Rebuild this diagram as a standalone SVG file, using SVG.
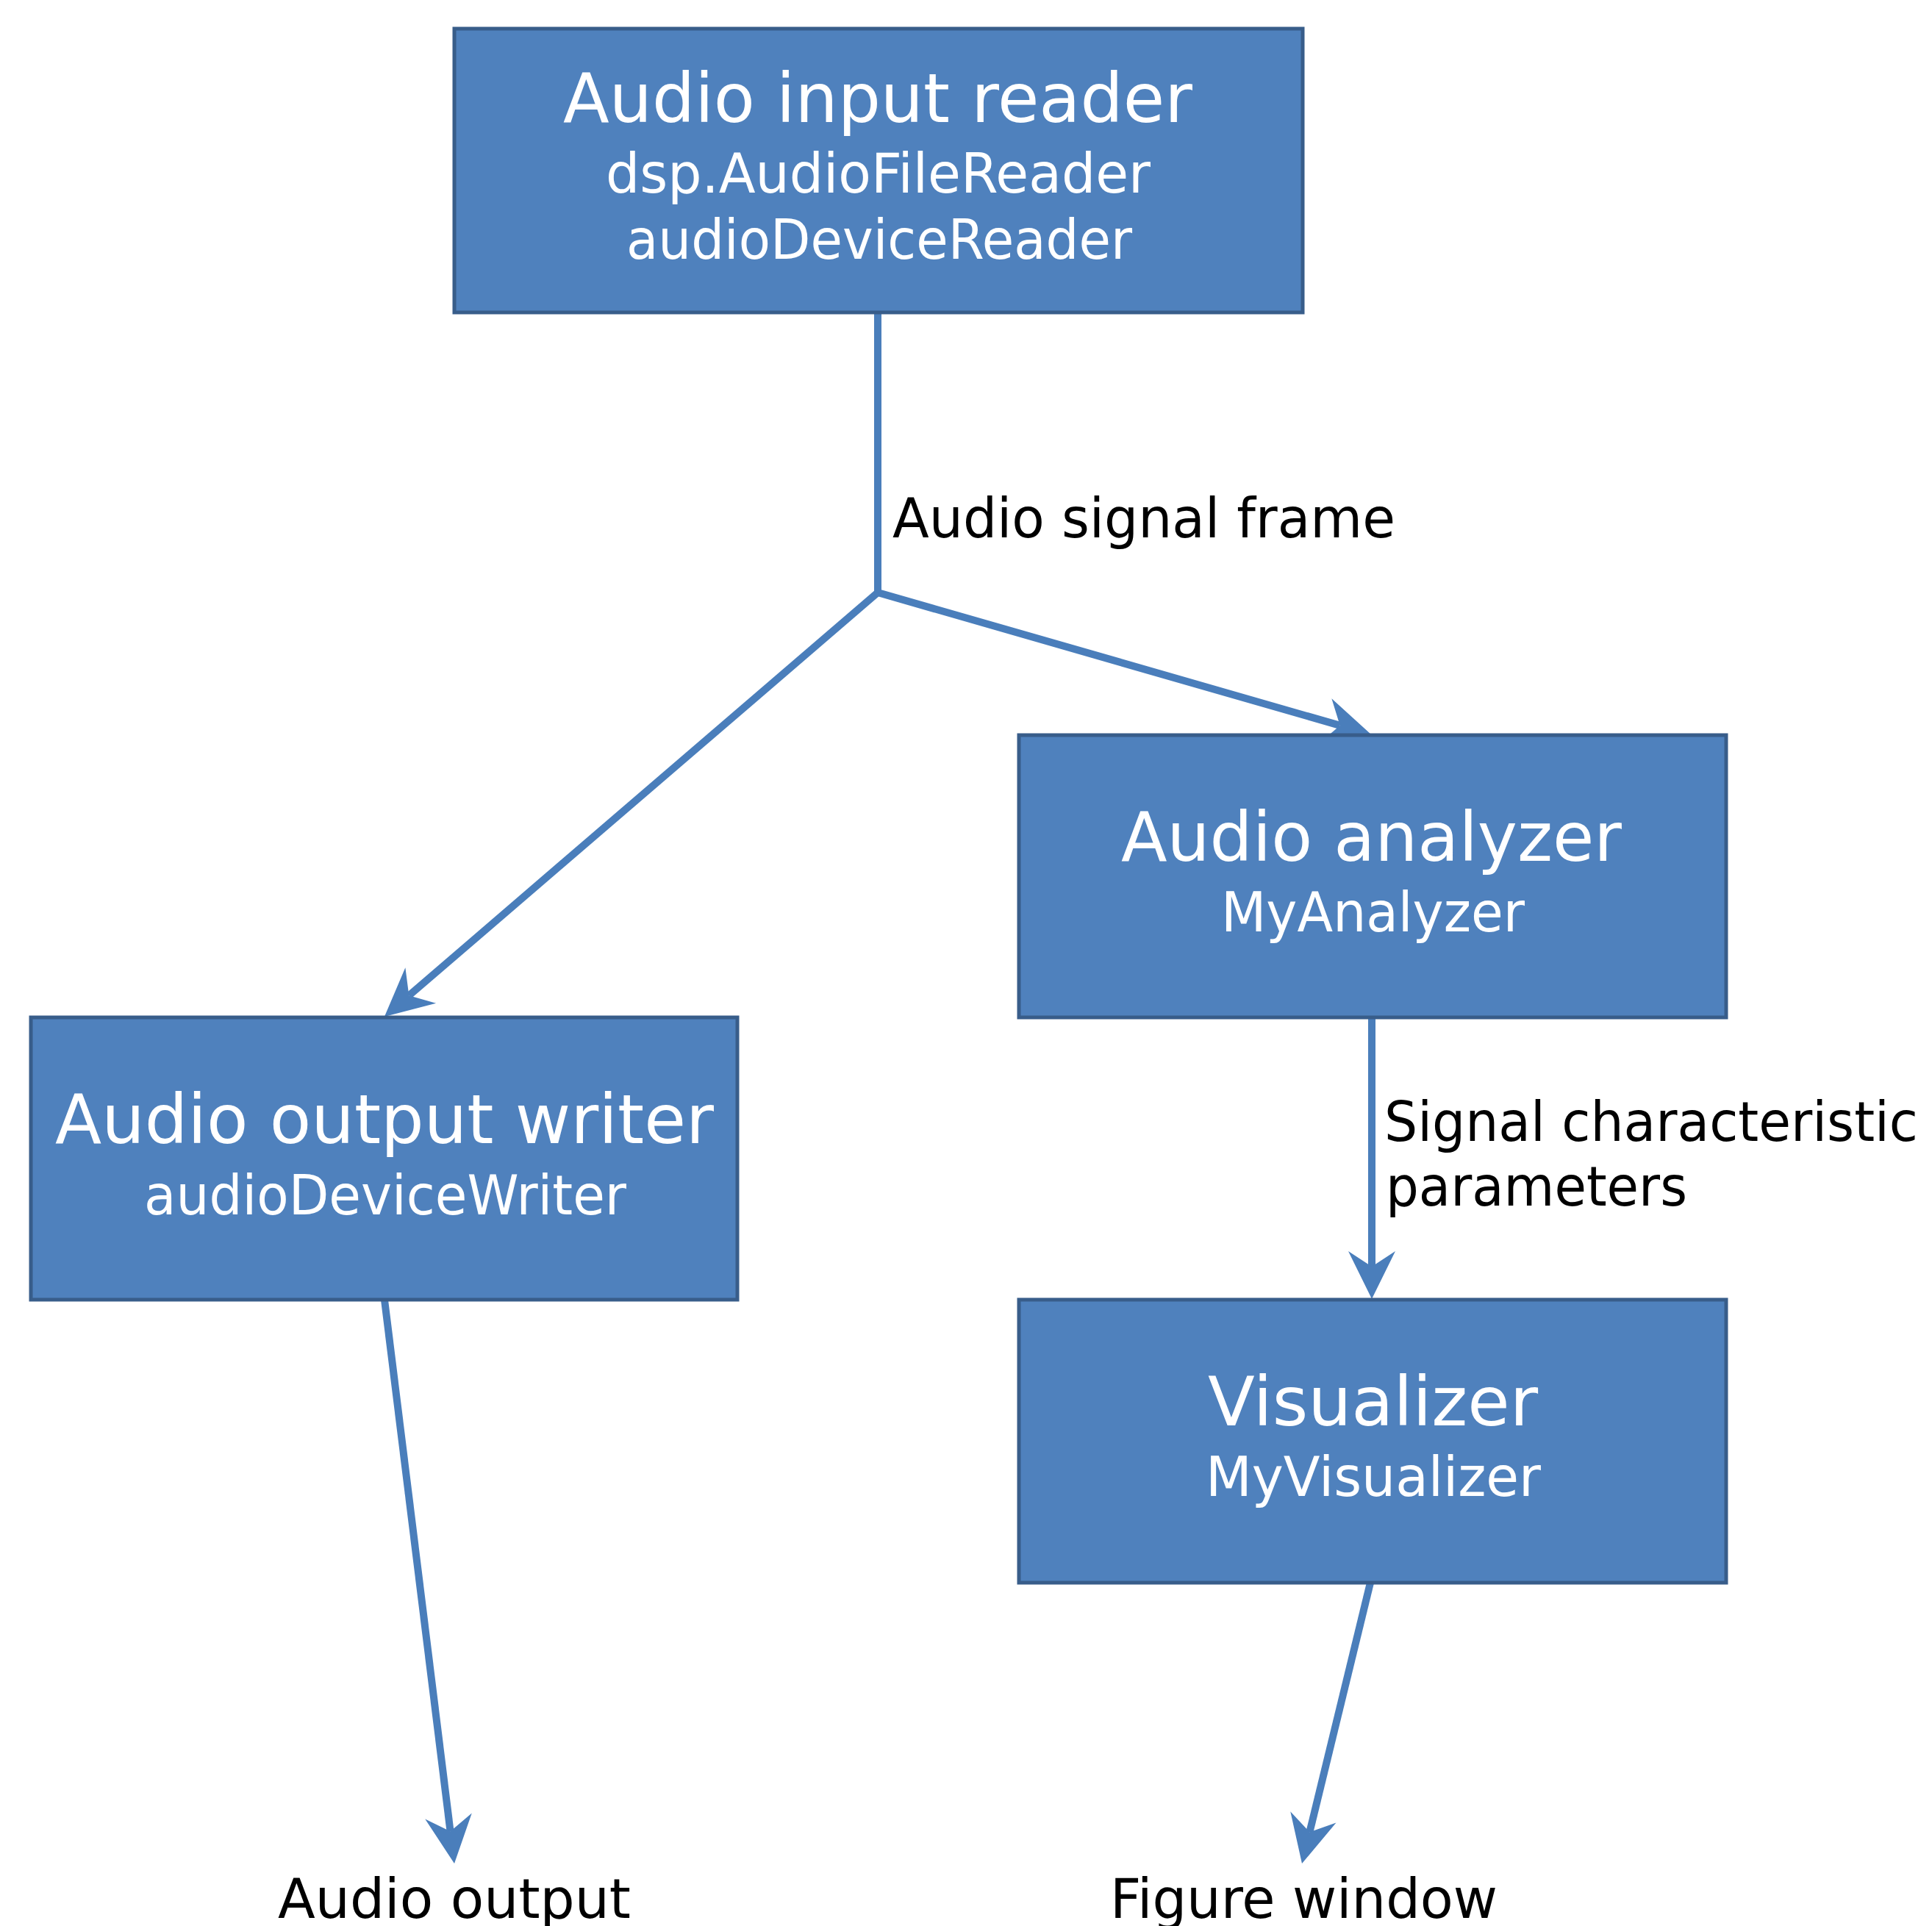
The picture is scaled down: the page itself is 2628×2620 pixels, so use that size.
<svg xmlns="http://www.w3.org/2000/svg" width="2628" height="2620" viewBox="0 0 2628 2620">
<style>
.box{fill:#4F81BD;stroke:#385D8A;stroke-width:5}
.t{font-family:"DejaVu Sans",sans-serif;fill:#FFFFFF;text-anchor:middle}
.big{font-size:92px}
.small{font-size:74px}
.lbl{font-family:"DejaVu Sans",sans-serif;fill:#000000;font-size:74px}
.conn{fill:none;stroke:#4A7EBB;stroke-width:10;stroke-linejoin:miter}
</style>
<defs>
<marker id="arr" markerUnits="userSpaceOnUse" viewBox="-25 -35 75 70" refX="0" refY="0" markerWidth="75" markerHeight="70" orient="auto">
<path d="M44,0 L-21,-32 L0,0 L-21,32 Z" fill="#4A7EBB"/>
</marker>
</defs>
<rect width="2628" height="2620" fill="#FFFFFF"/>
<g id="connectors">
<path class="conn" d="M1194,425 L1194,806 L1822.7,986.9" marker-end="url(#arr)"/>
<path class="conn" d="M1194,806 L556.3,1354.3" marker-end="url(#arr)"/>
<path class="conn" d="M1866,1384 L1866,1723" marker-end="url(#arr)"/>
<path class="conn" d="M523,1768 L612.6,2491.3" marker-end="url(#arr)"/>
<path class="conn" d="M1864,2153 L1781.4,2492.3" marker-end="url(#arr)"/>
</g>
<g id="node-input-reader">
<rect class="box" x="618" y="39" width="1154" height="386"/>
<text class="t big" x="1194" y="166" textLength="856" lengthAdjust="spacingAndGlyphs">Audio input reader</text>
<text class="t small" x="1194.5" y="262" textLength="741" lengthAdjust="spacingAndGlyphs">dsp.AudioFileReader</text>
<text class="t small" x="1196" y="352" textLength="688" lengthAdjust="spacingAndGlyphs">audioDeviceReader</text>
</g>
<g id="node-analyzer">
<rect class="box" x="1386" y="1000" width="962" height="384"/>
<text class="t big" x="1865.5" y="1171" textLength="681" lengthAdjust="spacingAndGlyphs">Audio analyzer</text>
<text class="t small" x="1867.5" y="1267" textLength="413" lengthAdjust="spacingAndGlyphs">MyAnalyzer</text>
</g>
<g id="node-writer">
<rect class="box" x="42" y="1384" width="961" height="384"/>
<text class="t big" x="523" y="1555" textLength="896" lengthAdjust="spacingAndGlyphs">Audio output writer</text>
<text class="t small" x="524" y="1652" textLength="656" lengthAdjust="spacingAndGlyphs">audioDeviceWriter</text>
</g>
<g id="node-visualizer">
<rect class="box" x="1386" y="1768" width="962" height="385"/>
<text class="t big" x="1867.5" y="1939" textLength="449" lengthAdjust="spacingAndGlyphs">Visualizer</text>
<text class="t small" x="1868" y="2035" textLength="456" lengthAdjust="spacingAndGlyphs">MyVisualizer</text>
</g>
<g id="labels">
<text class="lbl" x="1214" y="731" textLength="684" lengthAdjust="spacingAndGlyphs">Audio signal frame</text>
<text class="lbl" x="1883" y="1552" textLength="726" lengthAdjust="spacingAndGlyphs">Signal characteristic</text>
<text class="lbl" x="1885" y="1640" textLength="410" lengthAdjust="spacingAndGlyphs">parameters</text>
<text class="lbl" x="618" y="2609" text-anchor="middle" textLength="480" lengthAdjust="spacingAndGlyphs">Audio output</text>
<text class="lbl" x="1773.5" y="2609" text-anchor="middle" textLength="527" lengthAdjust="spacingAndGlyphs">Figure window</text>
</g>
</svg>
